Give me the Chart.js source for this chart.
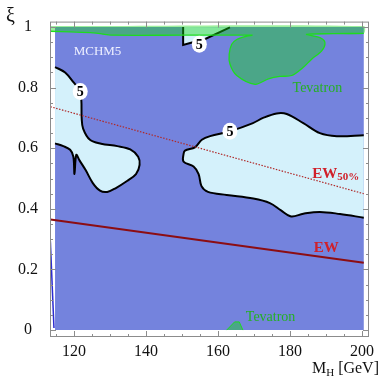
<!DOCTYPE html>
<html>
<head>
<meta charset="utf-8">
<script src="https://cdn.jsdelivr.net/npm/chart.js@4.4.1/dist/chart.umd.min.js"></script>
<style>
  html, body { margin: 0; padding: 0; background: #fff; }
  #wrap { width: 382px; height: 377px; }
</style>
</head>
<body>
<div id="wrap"><canvas id="c" width="382" height="377"></canvas></div>
<script>
const SERIF = "'Liberation Serif', 'DejaVu Serif', serif";

// axis ticks
const xTicks = [120, 140, 160, 180, 200];
const xMinor = [115, 125, 130, 135, 145, 150, 155, 165, 170, 175, 185, 190, 195];
const yTicks = [0, 0.2, 0.4, 0.6, 0.8, 1];
const yMinor = [0.05, 0.1, 0.15, 0.25, 0.3, 0.35, 0.45, 0.5, 0.55, 0.65, 0.7, 0.75, 0.85, 0.9, 0.95];

// scanned region (M_H, xi)
const scanRegion = [[114.7, 0], [200.5, 0], [200.5, 1.0], [114.7, 1.0]];

// "5" contours (open paths, closed along the plot edge)
const leftContour = [
  [114.7, 0.868], [117.5, 0.850], [119.8, 0.818], [121.5, 0.790], [122.0, 0.760],
  [122.1, 0.700], [122.5, 0.665], [124.4, 0.628], [127.5, 0.615], [132.0, 0.607],
  [135.6, 0.596], [137.8, 0.572], [138.2, 0.545], [137.2, 0.515], [134.7, 0.492],
  [131.5, 0.468], [129.2, 0.456], [127.2, 0.460], [125.2, 0.485], [123.2, 0.528],
  [121.5, 0.560], [120.6, 0.578], [120.1, 0.515], [119.8, 0.572], [118.9, 0.595],
  [117.0, 0.607], [114.7, 0.616]
];
const rightContour = [
  [200.5, 0.643], [193.0, 0.640], [188.3, 0.650], [183.7, 0.683], [179.1, 0.713],
  [176.3, 0.715], [172.5, 0.700], [169.7, 0.683], [163.3, 0.656], [157.8, 0.640],
  [155.5, 0.628], [153.6, 0.603], [150.8, 0.592], [150.4, 0.580], [150.4, 0.556],
  [153.2, 0.540], [154.6, 0.515], [155.4, 0.475], [157.2, 0.456], [162.4, 0.446],
  [169.8, 0.434], [174.4, 0.419], [177.5, 0.395], [180.3, 0.375], [183.7, 0.384],
  [188.3, 0.390], [193.9, 0.383], [200.5, 0.371]
];
const topContour = [[150.3, 1.0], [150.3, 0.941], [152.5, 0.948], [156.0, 0.958], [163.3, 0.999]];
const contourLabels = [[121.7, 0.787], [163.3, 0.656], [154.8, 0.943]];

// Tevatron exclusion
const tevatronEdge = [
  [113.4, 0.986], [119.0, 0.984], [125.3, 0.981], [128.5, 0.976], [131.0, 0.973],
  [150.0, 0.973], [169.4, 0.973], [168.0, 0.970], [165.2, 0.959], [163.8, 0.943],
  [163.1, 0.911], [163.3, 0.878], [165.2, 0.840], [170.3, 0.811], [174.0, 0.829],
  [177.2, 0.837], [180.5, 0.840], [183.7, 0.867], [186.0, 0.894], [188.8, 0.921],
  [189.7, 0.949], [188.3, 0.965], [184.6, 0.976], [192.0, 0.978], [200.5, 0.979]
];
const tevatronCap = [[200.5, 1.003], [113.4, 1.003]];
const tevatronLow = [[162.4, 0], [164.6, 0.027], [165.9, 0.027], [166.9, 0]];

// electroweak bounds
const ewLine = [[113.4, 0.365], [200.5, 0.222]];
const ew50Line = [[113.4, 0.737], [200.5, 0.450]];
const lepEdge = [[113.4, 0.293], [114.4, 0.007]];

const pts = arr => arr.map(([x, y]) => ({ x, y }));

const GREEN_FILL = 'rgba(20, 215, 20, 0.42)';
const LIGHT_BLUE = '#d4f1fb';

const datasets = [
  { data: pts(lepEdge), borderColor: '#2b2bd0', borderWidth: 1.5 },
  { data: pts(ewLine), borderColor: '#8c0d12', borderWidth: 2 },
  { data: pts(ew50Line), borderColor: '#b02a2a', borderWidth: 1.2, borderDash: [1.5, 1.5] },
  { data: pts(tevatronEdge), borderColor: '#1edc1e', borderWidth: 1.3, tension: 0.3 },
  { data: pts(tevatronLow), borderColor: '#1edc1e', borderWidth: 1, fill: 'shape', backgroundColor: GREEN_FILL },
  { data: pts(tevatronEdge.concat(tevatronCap)), borderWidth: 0, borderColor: 'transparent', fill: 'shape', backgroundColor: GREEN_FILL, tension: 0.3 },
  { data: pts(topContour), borderColor: '#000', borderWidth: 2, fill: 'shape', backgroundColor: LIGHT_BLUE },
  { data: pts(rightContour), borderColor: '#000', borderWidth: 2, fill: 'shape', backgroundColor: LIGHT_BLUE, tension: 0.35 },
  { data: pts(leftContour), borderColor: '#000', borderWidth: 2, fill: 'shape', backgroundColor: LIGHT_BLUE, tension: 0.35 },
  { data: pts(scanRegion), borderWidth: 0, borderColor: 'transparent', fill: 'shape', backgroundColor: '#7483dd' },
].map((ds, i) => Object.assign({ showLine: true, pointRadius: 0, pointHoverRadius: 0, order: i, tension: 0 }, ds));

// frame, inward ticks, contour labels and annotations
const frameAndNotes = {
  id: 'frameAndNotes',
  afterDatasetsDraw(chart) {
    const { ctx, chartArea: a, scales } = chart;
    const px = v => scales.x.getPixelForValue(v);
    const py = v => scales.y.getPixelForValue(v);
    ctx.save();

    ctx.strokeStyle = '#8c8c8c';
    ctx.lineWidth = 1;
    ctx.strokeRect(a.left + 0.5, a.top + 0.5, a.width - 1, a.height - 1);
    ctx.beginPath();
    const tickX = (v, len) => {
      const x = Math.round(px(v)) + 0.5;
      ctx.moveTo(x, a.bottom); ctx.lineTo(x, a.bottom - len);
      ctx.moveTo(x, a.top); ctx.lineTo(x, a.top + len);
    };
    const tickY = (v, len) => {
      const y = Math.round(py(v)) + 0.5;
      ctx.moveTo(a.left, y); ctx.lineTo(a.left + len, y);
      ctx.moveTo(a.right, y); ctx.lineTo(a.right - len, y);
    };
    xTicks.forEach(v => tickX(v, 6));
    xMinor.forEach(v => tickX(v, 3));
    yTicks.forEach(v => tickY(v, 6));
    yMinor.forEach(v => tickY(v, 3));
    ctx.stroke();

    // contour level labels
    ctx.textAlign = 'center';
    ctx.textBaseline = 'middle';
    ctx.font = 'bold 14px ' + SERIF;
    contourLabels.forEach(([vx, vy]) => {
      const x = px(vx), y = py(vy);
      ctx.fillStyle = '#fff';
      ctx.beginPath();
      ctx.ellipse(x, y, 7.5, 8.5, 0, 0, Math.PI * 2);
      ctx.fill();
      ctx.fillStyle = '#000';
      ctx.fillText('5', x, y + 1);
    });

    ctx.font = '13px ' + SERIF;
    ctx.fillStyle = '#eef0ff';
    ctx.fillText('MCHM5', px(126.5), py(0.920));

    ctx.font = '14px ' + SERIF;
    ctx.fillStyle = '#24b024';
    ctx.fillText('Tevatron', px(187.6), py(0.797));
    ctx.fillText('Tevatron', px(174.6), py(0.043));

    // EW labels
    ctx.textAlign = 'left';
    ctx.fillStyle = '#d0202a';
    ctx.font = 'bold 15px ' + SERIF;
    const x0 = px(186.2), y0 = py(0.514);
    ctx.fillText('EW', x0, y0);
    const w = ctx.measureText('EW').width;
    ctx.font = 'bold 11px ' + SERIF;
    ctx.fillText('50%', x0 + w, y0 + 3);
    ctx.font = 'bold 15px ' + SERIF;
    ctx.fillText('EW', px(186.6), py(0.271));

    // axis titles
    ctx.fillStyle = '#111';
    ctx.textBaseline = 'alphabetic';
    ctx.font = '20px ' + SERIF;
    ctx.fillText('\u03BE', 6, 22);

    ctx.font = '16px ' + SERIF;
    const tail = ' [GeV]';
    const tailW = ctx.measureText(tail).width;
    const mW = ctx.measureText('M').width;
    ctx.font = '11px ' + SERIF;
    const hW = ctx.measureText('H').width;
    const xr = 379 - tailW - hW - mW;
    ctx.font = '16px ' + SERIF;
    ctx.fillText('M', xr, 373);
    ctx.font = '11px ' + SERIF;
    ctx.fillText('H', xr + mW, 376);
    ctx.font = '16px ' + SERIF;
    ctx.fillText(tail, xr + mW + hW, 373);

    ctx.restore();
  }
};

new Chart(document.getElementById('c'), {
  type: 'scatter',
  data: { datasets },
  options: {
    responsive: false,
    animation: false,
    events: [],
    layout: { padding: { top: 17, right: 13, left: 0, bottom: 0 } },
    plugins: { legend: { display: false }, tooltip: { enabled: false } },
    scales: {
      x: {
        type: 'linear',
        min: 113.3,
        max: 201.95,
        afterBuildTicks: s => { s.ticks = xTicks.map(v => ({ value: v })); },
        afterFit: s => { s.height = 40; },
        grid: { display: false, drawTicks: false },
        border: { display: false },
        ticks: { color: '#111', padding: 5, maxRotation: 0, font: { family: SERIF, size: 16 }, callback: v => String(v) }
      },
      y: {
        type: 'linear',
        min: -0.0228,
        max: 1.0179,
        afterBuildTicks: s => { s.ticks = yTicks.map(v => ({ value: v })); },
        afterFit: s => { s.width = 50; },
        grid: { display: false, drawTicks: false },
        border: { display: false },
        ticks: { color: '#111', padding: 12, crossAlign: 'center', font: { family: SERIF, size: 16 }, callback: v => String(v) }
      }
    }
  },
  plugins: [frameAndNotes]
});
</script>
</body>
</html>
